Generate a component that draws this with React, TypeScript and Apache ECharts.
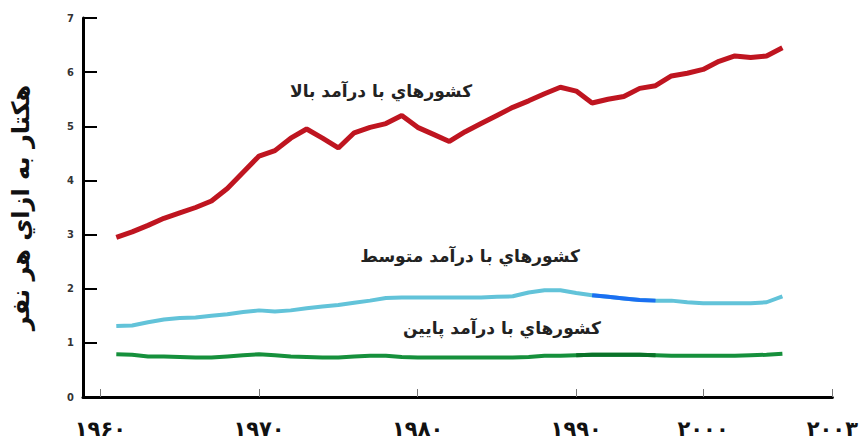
import React, { useEffect, useRef } from "react";
import * as echarts from "echarts";

const years: number[] = [
  1961, 1962, 1963, 1964, 1965, 1966, 1967, 1968, 1969, 1970,
  1971, 1972, 1973, 1974, 1975, 1976, 1977, 1978, 1979, 1980,
  1981, 1982, 1983, 1984, 1985, 1986, 1987, 1988, 1989, 1990,
  1991, 1992, 1993, 1994, 1995, 1996, 1997, 1998, 1999, 2000,
  2001, 2002, 2003,
];

const highIncome: number[] = [
  2.95, 3.05, 3.17, 3.3, 3.4, 3.5, 3.62, 3.85, 4.15, 4.45,
  4.55, 4.78, 4.95, 4.78, 4.6, 4.88, 4.98, 5.05, 5.2, 4.98,
  4.85, 4.72, 4.9, 5.05, 5.2, 5.35, 5.47, 5.6, 5.72, 5.65,
  5.43, 5.5, 5.55, 5.7, 5.75, 5.93, 5.98, 6.05, 6.2, 6.3,
  6.27, 6.3, 6.45,
];

const middleIncome: number[] = [
  1.31, 1.32, 1.38, 1.43, 1.46, 1.47, 1.5, 1.53, 1.57, 1.6,
  1.58, 1.6, 1.64, 1.67, 1.7, 1.74, 1.78, 1.83, 1.84, 1.84,
  1.84, 1.84, 1.84, 1.84, 1.85, 1.86, 1.93, 1.97, 1.97, 1.92,
  1.88, 1.85, 1.82, 1.79, 1.78, 1.78, 1.75, 1.73, 1.73, 1.73,
  1.73, 1.75, 1.86,
];

const lowIncome: number[] = [
  0.79, 0.78, 0.75, 0.75, 0.74, 0.73, 0.73, 0.75, 0.77, 0.79,
  0.77, 0.75, 0.74, 0.73, 0.73, 0.75, 0.76, 0.76, 0.74, 0.73,
  0.73, 0.73, 0.73, 0.73, 0.73, 0.73, 0.74, 0.76, 0.76, 0.77,
  0.78, 0.78, 0.78, 0.78, 0.77, 0.76, 0.76, 0.76, 0.76, 0.76,
  0.77, 0.78, 0.8,
];

// highlighted (darker) stretch of the middle / low income lines
const middleHighlightYears: number[] = [1991, 1995];
const lowHighlightYears: number[] = [1990, 1995];

// x tick positions as drawn in the source figure and their labels
const xTickValues: number[] = [1960, 1970, 1980, 1990, 1998, 2006.15];
const xTickLabels: string[] = ["۱۹۶۰", "۱۹۷۰", "۱۹۸۰", "۱۹۹۰", "۲۰۰۰", "۲۰۰۳"];

const yTickValues: number[] = [0, 1, 2, 3, 4, 5, 6, 7];

const yAxisTitle = "هکتار به ازاي هر نفر";
const labelHigh = "کشورهاي با درآمد بالا";
const labelMiddle = "کشورهاي با درآمد متوسط";
const labelLow = "کشورهاي با درآمد پايين";

const pairs = (vals: number[]) => years.map((y, i) => [y, vals[i]]);
const slice = (vals: number[], range: number[]) =>
  years.map((y, i) => [y, y >= range[0] && y <= range[1] ? vals[i] : null]);

const persianFont = "'DejaVu Sans', sans-serif";

export default function App() {
  const ref = useRef<HTMLDivElement>(null);
  useEffect(() => {
    if (!ref.current) return;
    const chart = echarts.init(ref.current, undefined, { renderer: "svg" });
    chart.setOption({
      animation: false,
      backgroundColor: "#ffffff",
      grid: { left: 83, top: 18, width: 750, height: 379 },
      xAxis: {
        type: "value",
        min: 1958.9,
        max: 2006.15,
        splitLine: { show: false },
        axisLine: { lineStyle: { color: "#000", width: 3 } },
        axisTick: {
          inside: true,
          length: 8,
          customValues: xTickValues,
          lineStyle: { color: "#777", width: 1 },
        },
        axisLabel: {
          customValues: xTickValues,
          margin: 21,
          fontFamily: persianFont,
          fontWeight: "bold",
          fontSize: 21,
          color: "#111",
          formatter: (v: number) => {
            const idx = xTickValues.findIndex((t) => Math.abs(t - v) < 0.01);
            return idx >= 0 ? xTickLabels[idx] : "";
          },
        },
      },
      yAxis: {
        type: "value",
        min: 0,
        max: 7,
        interval: 1,
        splitLine: { show: false },
        name: yAxisTitle,
        nameLocation: "middle",
        nameRotate: 90,
        nameGap: 50,
        nameTextStyle: {
          fontFamily: persianFont,
          fontWeight: "bold",
          fontSize: 24,
          color: "#111",
        },
        axisLine: { show: true, lineStyle: { color: "#000", width: 3 } },
        axisTick: {
          show: true,
          inside: true,
          length: 14,
          lineStyle: { color: "#000", width: 2 },
        },
        axisLabel: {
          margin: 9,
          fontFamily: "'Liberation Sans Narrow', 'DejaVu Sans Condensed', sans-serif",
          fontWeight: "bold",
          fontSize: 11,
          color: "#333",
          formatter: (v: number) => (yTickValues.includes(v) ? String(v) : ""),
        },
      },
      series: [
        {
          type: "line",
          data: pairs(highIncome),
          showSymbol: false,
          lineStyle: { color: "#bf1520", width: 5 },
        },
        {
          type: "line",
          data: pairs(middleIncome),
          showSymbol: false,
          lineStyle: { color: "#62c3d9", width: 4 },
        },
        {
          type: "line",
          data: slice(middleIncome, middleHighlightYears),
          showSymbol: false,
          lineStyle: { color: "#1b6ff2", width: 4 },
        },
        {
          type: "line",
          data: pairs(lowIncome),
          showSymbol: false,
          lineStyle: { color: "#16903c", width: 4 },
        },
        {
          type: "line",
          data: slice(lowIncome, lowHighlightYears),
          showSymbol: false,
          lineStyle: { color: "#0a7228", width: 4 },
        },
      ],
      graphic: [
        {
          type: "text",
          x: 381,
          y: 91,
          style: {
            text: labelHigh,
            font: `bold 17px ${persianFont}`,
            fill: "#222",
            align: "center",
            verticalAlign: "middle",
          },
        },
        {
          type: "text",
          x: 470,
          y: 256,
          style: {
            text: labelMiddle,
            font: `bold 17px ${persianFont}`,
            fill: "#222",
            align: "center",
            verticalAlign: "middle",
          },
        },
        {
          type: "text",
          x: 502,
          y: 328,
          style: {
            text: labelLow,
            font: `bold 17px ${persianFont}`,
            fill: "#222",
            align: "center",
            verticalAlign: "middle",
          },
        },
      ],
    });
    return () => chart.dispose();
  }, []);
  return (
    <div
      ref={ref}
      style={{ position: "fixed", left: 0, top: 0, width: 861, height: 444 }}
    />
  );
}
